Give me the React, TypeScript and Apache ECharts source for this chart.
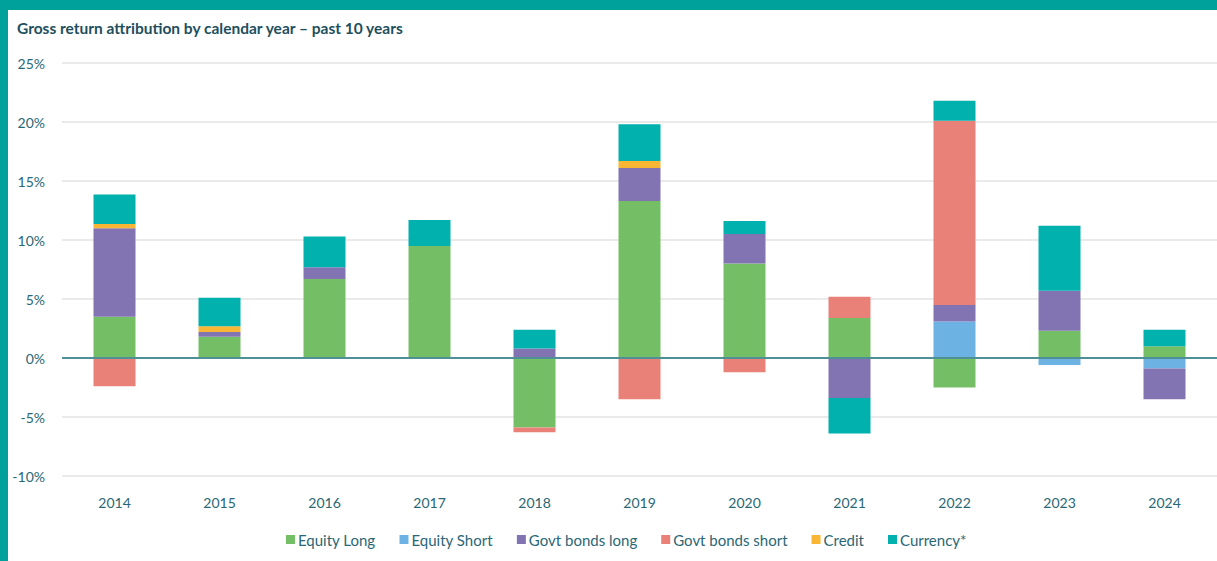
import React, { useEffect, useRef } from "react";
import * as echarts from "echarts";

const years = ["2014", "2015", "2016", "2017", "2018", "2019", "2020", "2021", "2022", "2023", "2024"];
const equityLong = [3.5, 1.8, 6.7, 9.5, -5.9, 13.3, 8.0, 3.4, -2.5, 2.3, 1.0];
const equityShort = [0, 0, 0, 0, 0, 0, 0, 0, 3.1, -0.6, -0.9];
const govtLong = [7.5, 0.4, 1.0, 0, 0.8, 2.8, 2.5, -3.4, 1.4, 3.4, -2.6];
const govtShort = [-2.4, 0, 0, 0, -0.4, -3.5, -1.2, 1.8, 15.6, 0, 0];
const credit = [0.35, 0.5, 0, 0, 0, 0.6, 0, 0, 0, 0, 0];
const currency = [2.5, 2.4, 2.6, 2.2, 1.6, 3.1, 1.1, -3.0, 1.7, 5.5, 1.4];
const yTicks = [-10, -5, 0, 5, 10, 15, 20, 25];

const seriesDefs = [
  { name: "Equity Long", data: equityLong, color: "#74BF66" },
  { name: "Equity Short", data: equityShort, color: "#6CB2E2" },
  { name: "Govt bonds long", data: govtLong, color: "#8274B3" },
  { name: "Govt bonds short", data: govtShort, color: "#E98178" },
  { name: "Credit", data: credit, color: "#F8B634" },
  { name: "Currency*", data: currency, color: "#00B1AE" },
];

const FONT = "Lato, 'Open Sans', sans-serif";
const LABEL = "#2A6776";

export default function App() {
  const ref = useRef<HTMLDivElement>(null);
  useEffect(() => {
    if (!ref.current) return;
    const chart = echarts.init(ref.current, null, { renderer: "svg" });
    chart.setOption({
      animation: false,
      backgroundColor: "#ffffff",
      textStyle: { fontFamily: FONT },
      graphic: [
        { type: "rect", left: 0, top: 0, shape: { width: 1217, height: 10 }, style: { fill: "#00A19A" }, z: 100 },
        { type: "rect", left: 0, top: 0, shape: { width: 8, height: 561 }, style: { fill: "#00A19A" }, z: 100 },
      ],
      title: {
        text: "Gross return attribution by calendar year – past 10 years",
        left: 12,
        top: 15,
        textStyle: { fontFamily: FONT, fontSize: 15.5, fontWeight: "bold", color: "#1E4F5E" },
      },
      legend: {
        bottom: 9,
        left: 281,
        itemWidth: 9,
        itemHeight: 9,
        itemGap: 24,
        icon: "rect",
        textStyle: { fontFamily: FONT, fontSize: 15, color: LABEL, padding: [0, 0, 0, -2] },
        data: seriesDefs.map((s) => s.name),
      },
      grid: { left: 62, right: 0, top: 63, bottom: 85 },
      xAxis: {
        type: "category",
        data: years,
        axisLine: { show: false },
        axisTick: { show: false },
        axisLabel: { fontFamily: FONT, fontSize: 14, color: LABEL, margin: 19 },
      },
      yAxis: {
        type: "value",
        min: yTicks[0],
        max: yTicks[yTicks.length - 1],
        interval: 5,
        axisLine: { show: false },
        axisTick: { show: false },
        axisLabel: { fontFamily: FONT, fontSize: 14, color: LABEL, margin: 17, formatter: (v: number) => v + "%" },
        splitLine: { lineStyle: { color: "#E3E3E3", width: 1.5 } },
      },
      series: [
        ...seriesDefs.map((s) => ({
          name: s.name,
          type: "bar",
          stack: "total",
          barWidth: 42,
          data: s.data,
          itemStyle: { color: s.color },
          emphasis: { disabled: true },
        })),
        {
          type: "line",
          data: [],
          markLine: {
            silent: true,
            symbol: "none",
            label: { show: false },
            lineStyle: { color: "#4F8F96", width: 2, type: "solid" },
            data: [{ yAxis: 0 }],
          },
          z: 10,
        },
      ],
    });
    return () => chart.dispose();
  }, []);
  return <div ref={ref} style={{ position: "absolute", left: 0, top: 0, width: 1217, height: 561 }} />;
}
